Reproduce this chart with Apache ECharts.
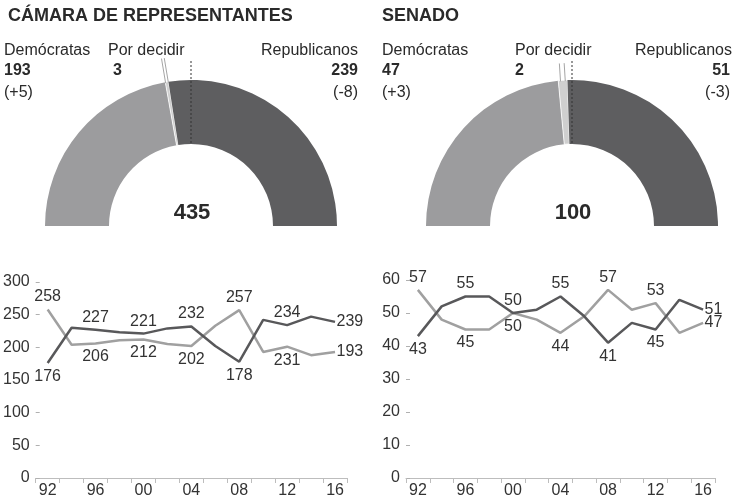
<!DOCTYPE html>
<html>
<head>
<meta charset="utf-8">
<script src="https://cdn.jsdelivr.net/npm/echarts@6/dist/echarts.min.js"></script>
<style>
html,body{margin:0;padding:0;background:#fff;}
#c{width:734px;height:502px;}
</style>
</head>
<body>
<div id="c"></div>
<script>
// ---------- DATA ----------
const years = ['92','94','96','98','00','02','04','06','08','10','12','14','16'];
const houseDem = [258, 204, 206, 211, 212, 205, 202, 233, 257, 193, 201, 188, 193];
const houseRep = [176, 230, 227, 223, 221, 229, 232, 202, 178, 242, 234, 247, 239];
const senateDem = [57, 48, 45, 45, 50, 48, 44, 49, 57, 51, 53, 44, 47];
const senateRep = [43, 52, 55, 55, 50, 51, 55, 49, 41, 47, 45, 54, 51];
const houseDemLabels = ['258','','206','','212','','202','','257','','231','','193'];
const houseRepLabels = ['176','','227','','221','','232','','178','','234','','239'];
const senateDemLabels = ['57','','45','','50','','44','','57','','53','','47'];
const senateRepLabels = ['43','','55','','50','','55','','41','','45','','51'];
const partyNames = ['Demócratas', 'Por decidir', 'Republicanos'];
const houseSeats = [193, 3, 239];
const senateSeats = [47, 2, 51];
const houseChange = ['(+5)', '', '(-8)'];
const senateChange = ['(+3)', '', '(-3)'];
const houseTotal = 435;
const senateTotal = 100;
const houseTitle = 'CÁMARA DE REPRESENTANTES';
const senateTitle = 'SENADO';
const houseTicks = {min: 0, max: 300, interval: 50};
const senateTicks = {min: 0, max: 60, interval: 10};

// ---------- STYLE ----------
const FONT = '"Liberation Sans", Arial, Helvetica, sans-serif';
const DEM_RING = '#9c9c9e';
const REP_RING = '#5e5e60';
const DEM_LINE = '#a0a0a0';
const REP_LINE = '#58585a';
const TXT = '#2a2a2a';

const chart = echarts.init(document.getElementById('c'), null, {renderer: 'canvas'});

const rIn = 82, rOut = 146;
const panels = [
  {cx: 191, cy: 226, seats: houseSeats, total: houseTotal, stemR: 170, stemHalf: 1.4, title: houseTitle, change: houseChange,
   leftX: 4, porX: 108, porNumX: 113, rightX: 358, rightNumX: 358, titleX: 8},
  {cx: 572, cy: 226, seats: senateSeats, total: senateTotal, stemR: 163, stemHalf: 2.4, title: senateTitle, change: senateChange,
   leftX: 382, porX: 515, porNumX: 515, rightX: 732, rightNumX: 730, titleX: 382}
];

const series = [];
const graphics = [];

panels.forEach(function (p) {
  const sum = p.seats[0] + p.seats[1] + p.seats[2];
  series.push({
    type: 'pie', silent: true, center: [p.cx, p.cy], radius: [rIn, rOut],
    startAngle: 180, clockwise: true, animation: false,
    label: {show: false}, labelLine: {show: false}, emphasis: {disabled: true},
    data: [
      {value: p.seats[0], name: partyNames[0], itemStyle: {color: DEM_RING, borderWidth: 0}},
      {value: p.seats[1], name: partyNames[1], itemStyle: {color: '#cfcfcf', borderColor: '#fff', borderWidth: 0.8}},
      {value: p.seats[2], name: partyNames[2], itemStyle: {color: REP_RING, borderWidth: 0}},
      {value: sum, name: 'x', itemStyle: {color: 'rgba(0,0,0,0)', borderWidth: 0}}
    ]
  });
  // leader lines for "Por decidir", following the undecided slice direction
  const a = Math.PI * (1 - (p.seats[0] + p.seats[1] / 2) / sum);
  const dx = Math.cos(a), dy = -Math.sin(a);
  const nx = -dy, ny = dx;
  [-1, 1].forEach(function (s) {
    const ox = nx * p.stemHalf * s, oy = ny * p.stemHalf * s;
    graphics.push({type: 'line', silent: true, z: 90,
      shape: {x1: p.cx + dx * (rOut - 1) + ox, y1: p.cy + dy * (rOut - 1) + oy,
              x2: p.cx + dx * p.stemR + ox, y2: p.cy + dy * p.stemR + oy},
      style: {stroke: '#a5a5a5', lineWidth: 1}});
  });
  // dotted 50% line
  graphics.push({type: 'line', silent: true, z: 100,
    shape: {x1: p.cx, y1: p.cy - 165, x2: p.cx, y2: p.cy - rIn},
    style: {stroke: '#333', lineWidth: 1, lineDash: [2, 2]}});
  function txt(text, x, y, size, bold, align) {
    graphics.push({type: 'text', silent: true, z: 100, x: x, y: y,
      style: {text: text, fontSize: size, fontWeight: bold ? 'bold' : 'normal', fontFamily: FONT,
        fill: TXT, align: align || 'left', verticalAlign: 'middle'}});
  }
  txt(p.title, p.titleX, 16, 18, true);
  txt(partyNames[0], p.leftX, 51, 16, false);
  txt(String(p.seats[0]), p.leftX, 71, 16, true);
  txt(p.change[0], p.leftX, 93, 16, false);
  txt(partyNames[1], p.porX, 51, 16, false);
  txt(String(p.seats[1]), p.porNumX, 71, 16, true);
  txt(partyNames[2], p.rightX, 51, 16, false, 'right');
  txt(String(p.seats[2]), p.rightNumX, 71, 16, true, 'right');
  txt(p.change[2], p.rightNumX, 93, 16, false, 'right');
  txt(String(p.total), p.cx + 1, 213, 22, true, 'center');
});

function lineData(vals, other, labels, isRep) {
  const last = vals.length - 1;
  return vals.map(function (v, i) {
    let pos;
    if (i === last) pos = 'right';
    else if (v > other[i] || (v === other[i] && isRep)) pos = 'top';
    else pos = 'bottom';
    return {value: v, label: {show: labels[i] !== '', formatter: labels[i], position: pos,
      distance: pos === 'right' ? 1 : (pos === 'top' ? 4 : 5)}};
  });
}

function lineSeries(idx, vals, other, labels, isRep) {
  const col = isRep ? REP_LINE : DEM_LINE;
  return {
    type: 'line', xAxisIndex: idx, yAxisIndex: idx, symbol: 'circle', symbolSize: 1, showSymbol: true,
    showAllSymbol: true, animation: false,
    lineStyle: {color: col, width: 2.5},
    itemStyle: {color: 'rgba(0,0,0,0)', borderWidth: 0},
    label: {show: true, fontSize: 16, color: '#333', fontFamily: FONT},
    labelLayout: {hideOverlap: false},
    data: lineData(vals, other, labels, isRep)
  };
}

series.push(lineSeries(0, houseDem, houseRep, houseDemLabels, false));
series.push(lineSeries(0, houseRep, houseDem, houseRepLabels, true));
series.push(lineSeries(1, senateDem, senateRep, senateDemLabels, false));
series.push(lineSeries(1, senateRep, senateDem, senateRepLabels, true));

function xAxis(gi) {
  return {type: 'category', gridIndex: gi, data: years, boundaryGap: true,
    axisLine: {show: true, lineStyle: {color: '#bdbdbd', width: 1}},
    axisTick: {show: true, interval: 0, length: 5, lineStyle: {color: '#bdbdbd'}},
    axisLabel: {interval: 1, fontSize: 16, color: '#333', fontFamily: FONT, margin: 5},
    splitLine: {show: false}};
}
function yAxis(gi, t) {
  return {type: 'value', gridIndex: gi, min: t.min, max: t.max, interval: t.interval,
    axisLine: {show: false},
    axisTick: {show: true, inside: true, length: 4, lineStyle: {color: '#b0b0b0'}},
    axisLabel: {fontSize: 16, color: '#333', fontFamily: FONT, margin: 6},
    splitLine: {show: false}};
}

chart.setOption({
  animation: false,
  backgroundColor: '#fff',
  grid: [
    {left: 35, right: 734 - 347, top: 282, bottom: 502 - 478},
    {left: 406, right: 734 - 715, top: 280, bottom: 502 - 478}
  ],
  xAxis: [xAxis(0), xAxis(1)],
  yAxis: [yAxis(0, houseTicks), yAxis(1, senateTicks)],
  series: series,
  graphic: {elements: graphics}
});
</script>
</body>
</html>
